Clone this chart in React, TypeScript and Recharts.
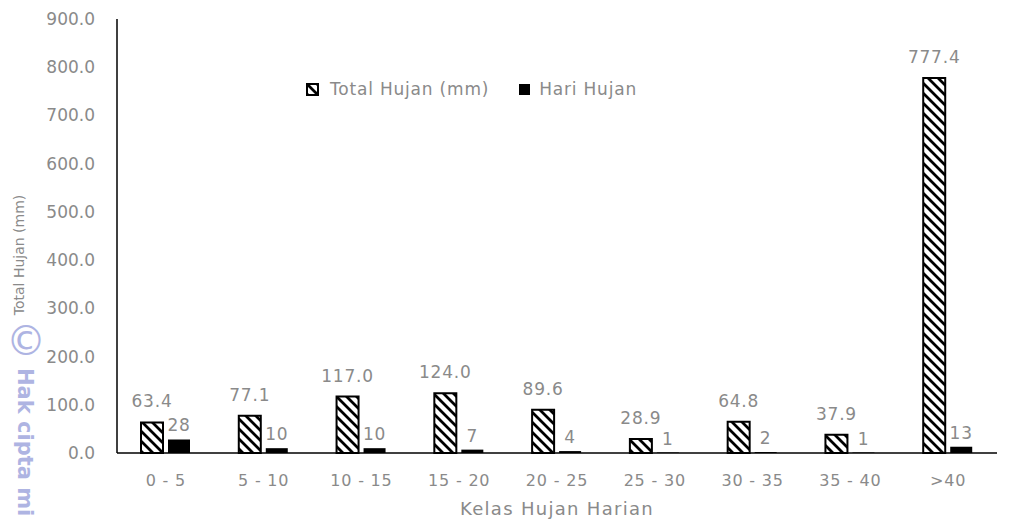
import { BarChart, Bar, XAxis, YAxis, LabelList, Label } from 'recharts'

const categories = ['0 - 5', '5 - 10', '10 - 15', '15 - 20', '20 - 25', '25 - 30', '30 - 35', '35 - 40', '>40']
const totalHujan = [63.4, 77.1, 117.0, 124.0, 89.6, 28.9, 64.8, 37.9, 777.4]
const hariHujan = [28, 10, 10, 7, 4, 1, 2, 1, 13]
const yTicks = [0, 100, 200, 300, 400, 500, 600, 700, 800, 900]

const data = categories.map((c, i) => ({
  kelas: c,
  total: totalHujan[i],
  hari: hariHujan[i],
}))

const GRAY = '#8a8a8a'
const FONT = '"DejaVu Sans", sans-serif'

function HatchDefs({ id }: { id: string }) {
  return (
    <defs>
      <pattern id={id} patternUnits="userSpaceOnUse" width={10} height={10}>
        <rect width={10} height={10} fill="#fff" />
        <path d="M-3,-3 L13,13 M-3,7 L3,13 M7,-3 L13,3" stroke="#000" strokeWidth={2.8} />
      </pattern>
    </defs>
  )
}

function LegendBox() {
  return (
    <div
      style={{
        position: 'absolute', left: 306, top: 79, display: 'flex', alignItems: 'center',
        fontFamily: FONT, fontSize: 17, color: GRAY, letterSpacing: 0.8,
      }}
    >
      <svg width={13} height={13} style={{ marginRight: 11 }}>
        <HatchDefs id="hatchLegend" />
        <rect x={1} y={1} width={11} height={11} fill="url(#hatchLegend)" stroke="#000" strokeWidth={2} />
      </svg>
      <span>Total Hujan (mm)</span>
      <svg width={11} height={11} style={{ marginLeft: 30, marginRight: 9 }}>
        <rect width={11} height={11} fill="#000" />
      </svg>
      <span>Hari Hujan</span>
    </div>
  )
}

export default function App() {
  return (
    <div style={{ position: 'absolute', left: 0, top: 0, width: 1011, height: 528, background: '#fff' }}>
      <BarChart
        width={1011}
        height={528}
        data={data}
        margin={{ top: 19, right: 14, left: 0, bottom: 0 }}
        barSize={22}
        barGap={5}
      >
        <HatchDefs id="hatch" />
        <XAxis
          dataKey="kelas"
          height={75}
          axisLine={{ stroke: '#000', strokeWidth: 1.5 }}
          tickLine={false}
          tickSize={0}
          tickMargin={22}
          tick={{ fill: GRAY, fontSize: 16, fontFamily: FONT, letterSpacing: 0.8 }}
          interval={0}
        >
          <Label
            value="Kelas Hujan Harian"
            position="insideBottom"
            offset={13}
            style={{ fill: GRAY, fontSize: 18, fontFamily: FONT, letterSpacing: 1.3 }}
          />
        </XAxis>
        <YAxis
          width={117}
          domain={[0, 900]}
          ticks={yTicks}
          interval={0}
          axisLine={{ stroke: '#000', strokeWidth: 1.5 }}
          tickLine={false}
          tickSize={0}
          tickMargin={22}
          tickFormatter={(v: number) => v.toFixed(1)}
          tick={{ fill: GRAY, fontSize: 17, fontFamily: FONT }}
        >
          <Label
            content={() => (
              <text
                x={24}
                y={255}
                transform="rotate(-90 24 255)"
                textAnchor="middle"
                fill={GRAY}
                fontSize={14}
                fontFamily={FONT}
              >
                Total Hujan (mm)
              </text>
            )}
          />
        </YAxis>
        <Bar dataKey="total" name="Total Hujan (mm)" fill="url(#hatch)" stroke="#000" strokeWidth={2} isAnimationActive={false}>
          <LabelList
            dataKey="total"
            position="top"
            offset={15}
            formatter={(v: number) => v.toFixed(1)}
            style={{ fill: GRAY, fontSize: 17, fontFamily: FONT, letterSpacing: 0.8 }}
          />
        </Bar>
        <Bar dataKey="hari" name="Hari Hujan" fill="#000" isAnimationActive={false}>
          <LabelList
            dataKey="hari"
            position="top"
            offset={8}
            style={{ fill: GRAY, fontSize: 17, fontFamily: FONT, letterSpacing: 0.8 }}
          />
        </Bar>
      </BarChart>
      <LegendBox />
      <svg width={80} height={528} style={{ position: 'absolute', left: 0, top: 0, pointerEvents: 'none' }}>
        <text x={6} y={355} fill="#9aa2dc" fontSize={40} fontFamily={FONT} opacity={0.8}>
          ©
        </text>
        <text
          x={18}
          y={368}
          transform="rotate(90 18 368)"
          fill="#9aa2dc"
          fontSize={21}
          fontWeight="bold"
          fontFamily={FONT}
          opacity={0.8}
        >
          Hak cipta mi
        </text>
      </svg>
    </div>
  )
}
